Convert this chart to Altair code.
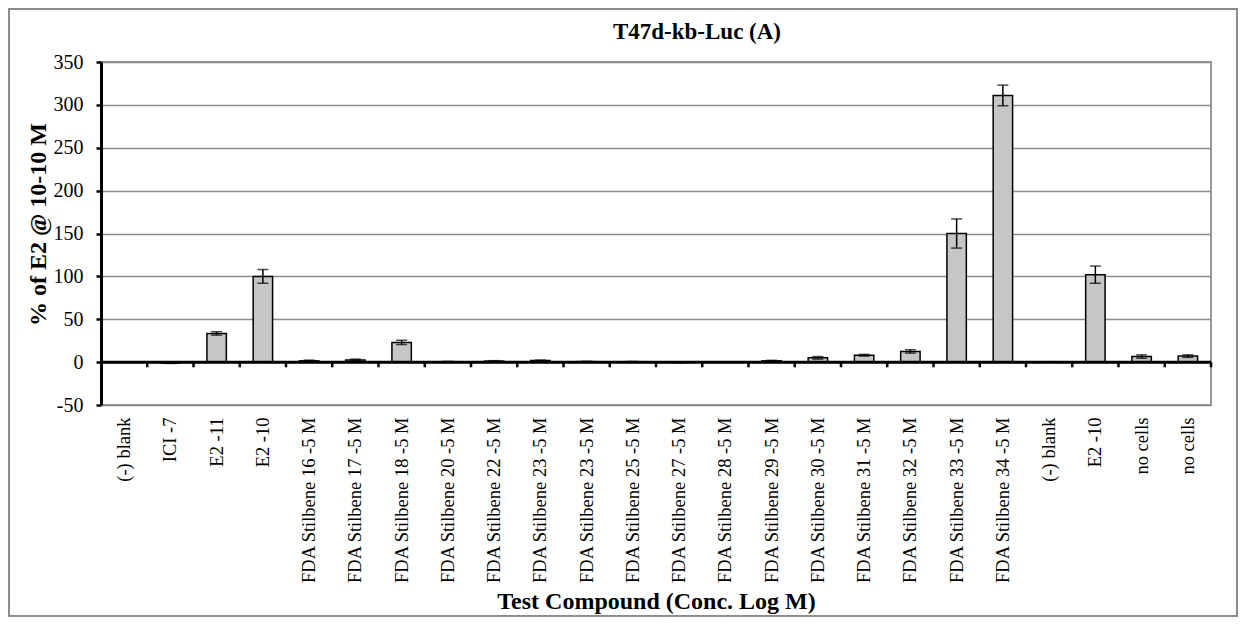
import json
import altair as alt
import pandas as pd

categories = [
    "(-) blank", "ICI -7", "E2 -11", "E2 -10",
    "FDA Stilbene 16 -5 M", "FDA Stilbene 17 -5 M", "FDA Stilbene 18 -5 M",
    "FDA Stilbene 20 -5 M", "FDA Stilbene 22 -5 M", "FDA Stilbene 23 -5 M",
    "FDA Stilbene 23 -5 M", "FDA Stilbene 25 -5 M", "FDA Stilbene 27 -5 M",
    "FDA Stilbene 28 -5 M", "FDA Stilbene 29 -5 M", "FDA Stilbene 30 -5 M",
    "FDA Stilbene 31 -5 M", "FDA Stilbene 32 -5 M", "FDA Stilbene 33 -5 M",
    "FDA Stilbene 34 -5 M", "(-) blank", "E2 -10", "no cells", "no cells",
]
values = [0, -1, 33.5, 100, 1.5, 2.5, 23, 0.5, 1.2, 1.8, 0.6, 0.5, -0.4, 0,
          1.5, 5, 8, 12.5, 150, 311, 0.3, 102, 6.5, 7]
errors = [0, 0.5, 2, 8, 0.8, 1, 2.5, 0.3, 0.5, 0.6, 0.3, 0.3, 0.3, 0,
          0.6, 1.5, 1, 2, 17, 12, 0.2, 10, 2, 1.5]
y_ticks = [-50, 0, 50, 100, 150, 200, 250, 300, 350]

df = pd.DataFrame({
    "idx": list(range(len(categories))),
    "name": categories,
    "value": values,
    "err": errors,
})
df["lo"] = df["value"] - df["err"]
df["hi"] = df["value"] + df["err"]

FONT = "Liberation Serif"
W, H = 1110, 343

label_expr = json.dumps(categories) + "[datum.value]"

xscale = alt.Scale(paddingInner=0, paddingOuter=0)
yscale = alt.Scale(domain=[-50, 350], nice=False, zero=False)

x_enc = alt.X(
    "idx:O", scale=xscale,
    axis=alt.Axis(
        title="Test Compound (Conc. Log M)",
        labelExpr=label_expr, labelAngle=-90, labelFontSize=18.5,
        labelFont=FONT, labelColor="black", labelPadding=12,
        ticks=False, tickSize=0, domain=False, grid=False,
        titleFont=FONT, titleFontSize=24, titleFontWeight="bold",
        titleColor="black", titleY=196, titleBaseline="middle",
        titleX=W / 2, titleAnchor="middle",
    ),
)
y_enc = alt.Y(
    "value:Q", scale=yscale,
    axis=alt.Axis(
        title="% of E2 @ 10-10 M", values=y_ticks,
        labelExpr="'' + datum.value",
        labelFont=FONT, labelFontSize=20, labelColor="black",
        labelPadding=13, tickSize=5, tickWidth=2.5, tickColor="black",
        domainColor="black", domainWidth=3,
        gridColor="#8c8c8c", gridWidth=1.5,
        titleFont=FONT, titleFontSize=24, titleFontWeight="bold",
        titleColor="black", titleX=-63, titleY=162, titleAngle=-90,
        titleBaseline="middle", titleAnchor="middle",
    ),
)

base = alt.Chart(df)

bars = base.mark_bar(
    width={"band": 0.42}, fill="#c6c6c6", stroke="black", strokeWidth=1.5
).encode(x=x_enc, y=y_enc)

err_rule = base.mark_rule(color="black", strokeWidth=1.5).encode(
    x=alt.X("idx:O"), y=alt.Y("lo:Q"), y2="hi:Q"
)
cap_hi = base.mark_tick(color="black", size=11, thickness=1.5).encode(
    x=alt.X("idx:O"), y=alt.Y("hi:Q")
)
cap_lo = base.mark_tick(color="black", size=11, thickness=1.5).encode(
    x=alt.X("idx:O"), y=alt.Y("lo:Q")
)

zero_line = alt.Chart(pd.DataFrame({"z": [0]})).mark_rule(
    color="black", strokeWidth=3
).encode(y=alt.Y("z:Q"))

bound_ticks = base.mark_rule(color="black", strokeWidth=2.5).encode(
    x=alt.X("idx:O", bandPosition=1),
    y=alt.datum(0),
    y2=alt.datum(-6),
)

title_txt = alt.Chart(pd.DataFrame({"t": ["T47d-kb-Luc (A)"]})).mark_text(
    font=FONT, fontSize=23, fontWeight="bold", color="black",
    align="center", baseline="middle",
).encode(x=alt.value(596), y=alt.value(-30), text="t:N")

frame = alt.Chart(pd.DataFrame({"f": [1]})).mark_rect(
    fill=None, stroke="#8c8c8c", strokeWidth=2
).encode(
    x=alt.value(-92), x2=alt.value(W + 26),
    y=alt.value(-53), y2=alt.value(H + 211),
)

chart = alt.layer(
    frame, bars, err_rule, cap_hi, cap_lo, zero_line, bound_ticks, title_txt
).properties(
    width=W, height=H,
    padding={"left": 93, "top": 54, "right": 28, "bottom": 213},
    autosize=alt.AutoSizeParams(type="none"),
    background="white",
).configure_view(
    stroke="#999999", strokeWidth=2
)

chart.save("out.html", embed_options={"renderer": "svg", "actions": False})
